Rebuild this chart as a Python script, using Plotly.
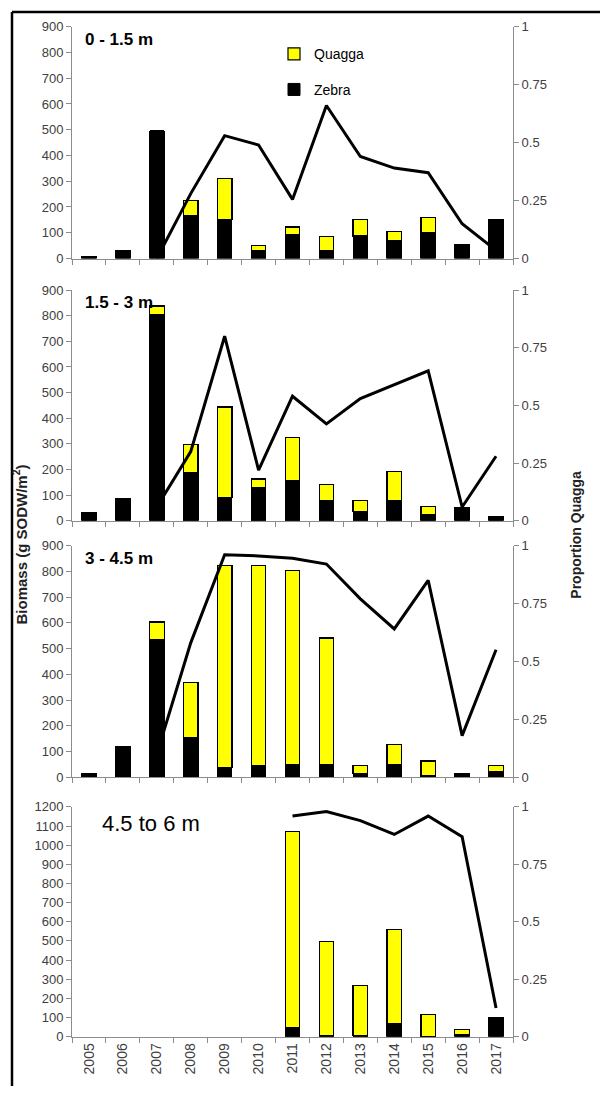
import plotly.graph_objects as go
from plotly.subplots import make_subplots

years = ["2005", "2006", "2007", "2008", "2009", "2010", "2011",
         "2012", "2013", "2014", "2015", "2016", "2017"]

panel_titles = ["0 - 1.5 m", "1.5 - 3 m", "3 - 4.5 m", "4.5 to 6 m"]

zebra_1 = [8, 30, 495, 165, 150, 30, 94, 30, 87, 68, 102, 54, 150]
quagga_1 = [0, 0, 0, 60, 160, 22, 28, 55, 63, 38, 56, 0, 0]
prop_1 = [None, None, 0.0, 0.28, 0.53, 0.49, 0.255, 0.66, 0.44, 0.39, 0.37, 0.15, 0.035]

zebra_2 = [31, 87, 805, 188, 92, 129, 157, 79, 38, 79, 23, 51, 17]
quagga_2 = [0, 0, 33, 110, 352, 34, 167, 62, 41, 113, 32, 0, 0]
prop_2 = [None, None, 0.06, 0.30, 0.80, 0.22, 0.54, 0.42, 0.53, 0.59, 0.65, 0.06, 0.28]

zebra_3 = [15, 121, 535, 156, 37, 45, 51, 51, 15, 51, 5, 15, 22]
quagga_3 = [0, 0, 68, 211, 785, 777, 752, 490, 30, 75, 58, 0, 23]
prop_3 = [None, None, 0.10, 0.58, 0.96, 0.955, 0.945, 0.92, 0.77, 0.64, 0.85, 0.18, 0.55]

zebra_4 = [None, None, None, None, None, None, 45, 8, 8, 69, 2, 10, 99]
quagga_4 = [None, None, None, None, None, None, 1026, 489, 259, 490, 115, 29, 0]
prop_4 = [None, None, None, None, None, None, 0.96, 0.98, 0.94, 0.88, 0.96, 0.87, 0.125]

zebras = [zebra_1, zebra_2, zebra_3, zebra_4]
quaggas = [quagga_1, quagga_2, quagga_3, quagga_4]
props = [prop_1, prop_2, prop_3, prop_4]
left_max = [900, 900, 900, 1200]

W, H = 600, 1094
# pixel geometry of each panel (top, bottom)
panel_px = [(20, 255), (287, 521), (546, 781), (811, 1044)]
x_px = (72, 513)

FONT = "Liberation Sans"
TICKCOL = "#404040"
AXCOL = "#8c8c8c"

fig = make_subplots(rows=4, cols=1, specs=[[{"secondary_y": True}]] * 4)

for i in range(4):
    row = i + 1
    show = i == 0
    fig.add_trace(go.Bar(x=years, y=zebras[i], name="Zebra",
                         marker=dict(color="#000000", line=dict(color="#000000", width=1)),
                         showlegend=show, legend="legend2"),
                  row=row, col=1, secondary_y=False)
    fig.add_trace(go.Bar(x=years, y=quaggas[i], name="Quagga",
                         marker=dict(color="#FFFF00", line=dict(color="#000000", width=1.2)),
                         showlegend=show, legend="legend"),
                  row=row, col=1, secondary_y=False)
    fig.add_trace(go.Scatter(x=years, y=props[i], mode="lines", name="Proportion Quagga",
                             line=dict(color="#000000", width=3), showlegend=False,
                             connectgaps=False), row=row, col=1, secondary_y=True)

for i in range(4):
    top, bot = panel_px[i]
    dom = [1 - bot / H, 1 - top / H]
    xname = "xaxis" if i == 0 else f"xaxis{i + 1}"
    yl = "yaxis" if i == 0 else f"yaxis{2 * i + 1}"
    yr = f"yaxis{2 * i + 2}"
    fig.layout[xname].update(
        domain=[x_px[0] / W, x_px[1] / W], type="category",
        showline=True, linecolor=AXCOL, linewidth=1,
        ticks="outside", tickson="boundaries", ticklen=5, tickcolor=AXCOL,
        showgrid=False, zeroline=False,
        showticklabels=(i == 3), tickangle=-90,
        tickfont=dict(family=FONT, size=14, color=TICKCOL),
    )
    fig.layout[yl].update(
        domain=dom, range=[0, left_max[i]], dtick=100, tick0=0,
        showline=True, linecolor=AXCOL, linewidth=1,
        ticks="outside", ticklen=5, tickcolor=AXCOL,
        showgrid=False, zeroline=False,
        tickfont=dict(family=FONT, size=13, color=TICKCOL),
    )
    fig.layout[yr].update(
        range=[0, 1], tickvals=[0, 0.25, 0.5, 0.75, 1],
        ticktext=["0", "0.25", "0.5", "0.75", "1"],
        showline=True, linecolor=AXCOL, linewidth=1,
        ticks="outside", ticklen=5, tickcolor=AXCOL,
        showgrid=False, zeroline=False,
        tickfont=dict(family=FONT, size=13, color=TICKCOL),
    )
    if i < 3:
        fig.add_annotation(
            x=83 / W, y=1 - (top + 13) / H,
            xref="paper", yref="paper", xanchor="left", yanchor="middle",
            text=f"<b>{panel_titles[i]}</b>", showarrow=False,
            font=dict(family=FONT, size=17, color="#000000"),
        )
    else:
        fig.add_annotation(
            x=100 / W, y=1 - 828 / H,
            xref="paper", yref="paper", xanchor="left", yanchor="middle",
            text=panel_titles[i], showarrow=False,
            font=dict(family=FONT, size=22, color="#000000"),
        )

fig.add_annotation(x=20 / W, y=1 - 545 / H, xref="paper", yref="paper",
                   text="<b>Biomass (g SODW/m<sup>2</sup>)</b>", textangle=-90,
                   showarrow=False, xanchor="center", yanchor="middle",
                   font=dict(family=FONT, size=15, color="#222222"))
fig.add_annotation(x=576 / W, y=1 - 535 / H, xref="paper", yref="paper",
                   text="<b>Proportion Quagga</b>", textangle=-90,
                   showarrow=False, xanchor="center", yanchor="middle",
                   font=dict(family=FONT, size=14, color="#222222"))

# frame lines (left and top edges)
fig.add_shape(type="line", xref="paper", yref="paper", x0=12 / W, x1=12 / W,
              y0=0, y1=1 - 5 / H, line=dict(color="#000000", width=2.5))
fig.add_shape(type="line", xref="paper", yref="paper", x0=12 / W, x1=1,
              y0=1 - 5 / H, y1=1 - 5 / H, line=dict(color="#000000", width=2.5))

legend_common = dict(xanchor="left", yanchor="middle", itemwidth=30,
                     font=dict(family=FONT, size=14, color="#000000"),
                     bgcolor="rgba(0,0,0,0)")

fig.update_layout(
    width=W, height=H, margin=dict(l=0, r=0, t=0, b=0),
    paper_bgcolor="#ffffff", plot_bgcolor="#ffffff",
    barmode="stack", bargap=0.57,
    showlegend=True,
    legend=dict(x=274 / W, y=1 - 48 / H, **legend_common),
    legend2=dict(x=274 / W, y=1 - 84 / H, **legend_common),
)

fig.write_html("out.html")
